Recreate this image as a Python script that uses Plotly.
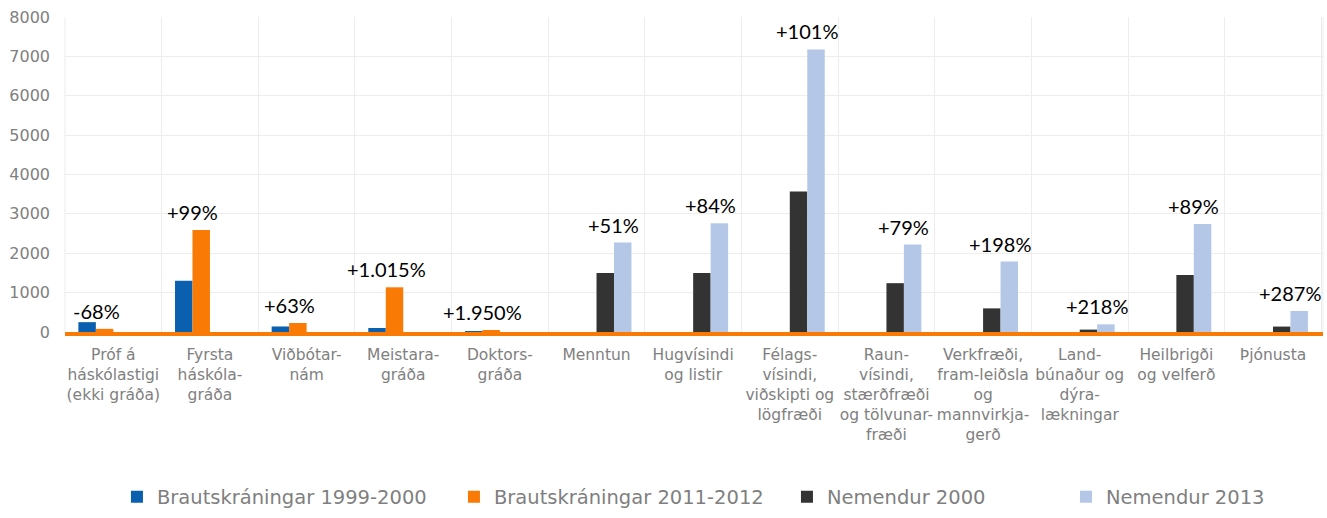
import plotly.graph_objects as go

categories = [
    "Próf á<br>háskólastigi<br>(ekki gráða)",
    "Fyrsta<br>háskóla-<br>gráða",
    "Viðbótar-<br>nám",
    "Meistara-<br>gráða",
    "Doktors-<br>gráða",
    "Menntun",
    "Hugvísindi<br>og listir",
    "Félags-<br>vísindi,<br>viðskipti og<br>lögfræði",
    "Raun-<br>vísindi,<br>stærðfræði<br>og tölvunar-<br>fræði",
    "Verkfræði,<br>fram-leiðsla<br>og<br>mannvirkja-<br>gerð",
    "Land-<br>búnaður og<br>dýra-<br>lækningar",
    "Heilbrigði<br>og velferð",
    "Þjónusta",
]

braut_1999 = [250, 1300, 140, 102, 2, 0, 0, 0, 0, 0, 0, 0, 0]
braut_2011 = [80, 2590, 228, 1135, 41, 0, 0, 0, 0, 0, 0, 0, 0]
nem_2000 = [0, 0, 0, 0, 0, 1500, 1500, 3570, 1240, 600, 61, 1450, 138]
nem_2013 = [0, 0, 0, 0, 0, 2270, 2760, 7175, 2220, 1790, 195, 2740, 534]

pct_labels = ["-68%", "+99%", "+63%", "+1.015%", "+1.950%", "+51%", "+84%",
              "+101%", "+79%", "+198%", "+218%", "+89%", "+287%"]

series_names = ["Brautskráningar 1999-2000", "Brautskráningar 2011-2012",
                "Nemendur 2000", "Nemendur 2013"]
colors = ["#0A5FAF", "#F97A05", "#333333", "#B4C7E7"]
legend_widths = [292, 288, 234, 180]

fig = go.Figure()
for name, vals, col, lw in zip(series_names, [braut_1999, braut_2011, nem_2000, nem_2013],
                               colors, legend_widths):
    fig.add_trace(go.Bar(x=categories, y=vals, name=name, marker_color=col,
                         marker_line_width=0, hoverinfo="y+name", legendwidth=lw))

for i, lab in enumerate(pct_labels):
    ref = braut_2011[i] if i < 5 else nem_2013[i]
    fig.add_annotation(x=i, y=ref, text=lab, showarrow=False,
                       xref="x", yref="y", yanchor="middle", yshift=18,
                       xshift=-17 if i < 5 else 17,
                       font=dict(family="Lato, Open Sans, sans-serif", size=20, color="#000000"))

fig.update_layout(
    width=1327, height=518,
    margin=dict(l=65, r=4, t=17, b=186, autoexpand=False),
    plot_bgcolor="white", paper_bgcolor="white",
    barmode="group", bargap=0.277, bargroupgap=0,
    font=dict(family="DejaVu Sans, Verdana, sans-serif", color="#808080"),
    legend=dict(orientation="h", x=0.0413, xanchor="left", y=-0.524, yanchor="middle",
                font=dict(size=19.5, color="#7F7F7F"), itemwidth=30,
                traceorder="normal", tracegroupgap=0),
    showlegend=True,
)
fig.update_xaxes(
    type="category", tickson="boundaries", showgrid=True, gridcolor="#EDEDED", gridwidth=1,
    showline=True, linecolor="#F97A05", linewidth=4, ticks="", automargin=False,
    tickfont=dict(size=15.5, color="#808080"), tickangle=0, ticklabelstandoff=5,
)
fig.update_yaxes(
    range=[0, 8000], dtick=1000, showgrid=True, gridcolor="#EDEDED", gridwidth=1,
    zeroline=False, showline=False, ticks="", automargin=False,
    tickfont=dict(size=16, color="#808080"), ticklabelstandoff=14,
)
fig.add_shape(type="line", xref="paper", yref="paper", x0=0, x1=0, y0=0, y1=1,
              line=dict(color="#EDEDED", width=1), layer="below")
fig.add_shape(type="line", xref="paper", yref="paper", x0=1, x1=1, y0=0, y1=1,
              line=dict(color="#EDEDED", width=1), layer="below")

fig.write_html("out.html", config={"displayModeBar": False},
               post_script="document.body.style.margin='0';")
